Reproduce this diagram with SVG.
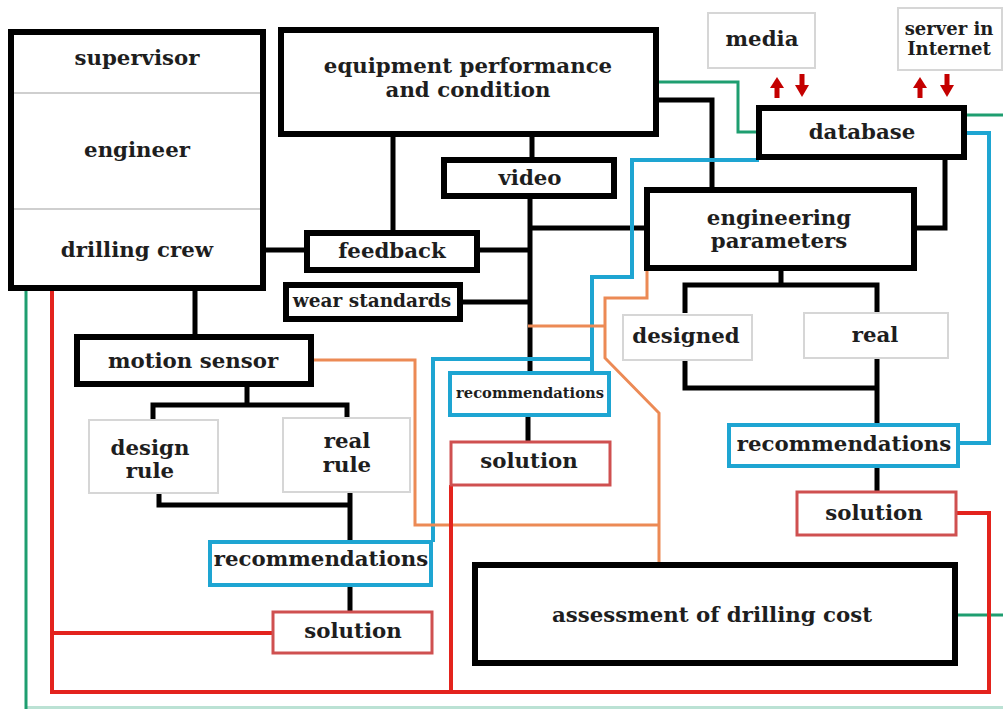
<svg xmlns="http://www.w3.org/2000/svg" width="1003" height="709" viewBox="0 0 1003 709">
<defs>
<style>
.t{font-family:"DejaVu Serif","Liberation Serif",serif;font-weight:bold;font-size:21.3px;fill:#1e1e1e;text-anchor:middle}
.s{font-size:18.5px}
.sv{font-size:18px}
.xs{font-size:14.7px}
.bx{fill:#fff;stroke:#000;stroke-width:6}
.gb{fill:#fff;stroke:#d6d6d6;stroke-width:2}
.rb{fill:#fff;stroke:#1ea5d2;stroke-width:4}
.sb{fill:#fff;stroke:#cf5050;stroke-width:3}
.k{fill:none;stroke:#000;stroke-width:5}
.g{fill:none;stroke:#1e9e70;stroke-width:3}
.b{fill:none;stroke:#1ea5d2;stroke-width:4}
.o{fill:none;stroke:#ec8a55;stroke-width:3}
.r{fill:none;stroke:#e3231d;stroke-width:4}
.ar{fill:#c40000}
</style>
<g id="up"><polygon class="ar" points="-7,11 0,0 7,11"/><rect class="ar" x="-2.5" y="10" width="5" height="11"/></g>
<g id="down"><rect class="ar" x="-2.5" y="0" width="5" height="12"/><polygon class="ar" points="-7,11 0,23 7,11"/></g>
</defs>
<rect width="1003" height="709" fill="#fff"/>

<g id="connectors">
<path class="k" d="M393 134V233M532 134V160M530 196V373M530 228H647M477 250H530M263 250H307M460 302H530M656 100H712V190M945 157V228H914M781 268V285M685 313V285H877V313M685 360V388H877M877 358V425M877 466V492M528 415V442M195 288V337M247 384V405M153 420V405H347V418M159 493V505H350M350 492V542M350 585V612"/>
<path class="g" d="M656 82H738V132H759M964 115H1003M955 615H1003M26 290V709"/>
<path class="g" d="M26 707.5H1003" opacity="0.3"/>
<path class="b" d="M759 160H632V277H592V373M592 359H433V542M958 443H989V133H964"/>
<path class="o" d="M311 360H415V525H659M647 268V298H605V358L659 413V565M528 326H605"/>
<path class="r" d="M52 290V692H989V513H956M52 633H273M451 485V692"/>
<use href="#up" x="777" y="77"/>
<use href="#down" x="802" y="74"/>
<use href="#up" x="920" y="77"/>
<use href="#down" x="947" y="74"/>
</g>

<g id="crew">
<rect class="bx" x="11" y="32" width="252" height="256"/>
<path d="M14 93H260M14 209H260" stroke="#cfcfcf" stroke-width="2"/>
<text class="t" x="137" y="65">supervisor</text>
<text class="t" x="137" y="157">engineer</text>
<text class="t" x="137" y="257">drilling crew</text>
</g>
<g id="equipment">
<rect class="bx" x="281" y="30" width="375" height="104"/>
<text class="t" x="468" y="73">equipment performance</text>
<text class="t" x="468" y="97">and condition</text>
</g>
<g id="video">
<rect class="bx" x="444" y="160" width="170" height="36"/>
<text class="t" x="530" y="185">video</text>
</g>
<g id="feedback">
<rect class="bx" x="307" y="233" width="170" height="37"/>
<text class="t" x="392" y="258">feedback</text>
</g>
<g id="wear-standards">
<rect class="bx" x="286" y="285" width="174" height="34"/>
<text class="t s" x="372" y="307">wear standards</text>
</g>
<g id="engineering-parameters">
<rect class="bx" x="647" y="190" width="267" height="78"/>
<text class="t" x="779" y="225">engineering</text>
<text class="t" x="779" y="248">parameters</text>
</g>
<g id="database">
<rect class="bx" x="759" y="108" width="205" height="49"/>
<text class="t" x="862" y="139">database</text>
</g>
<g id="media">
<rect class="gb" x="708" y="13" width="107" height="55"/>
<text class="t" x="762" y="46">media</text>
</g>
<g id="server">
<rect class="gb" x="898" y="8" width="104" height="62"/>
<text class="t sv" x="949" y="35">server in</text>
<text class="t sv" x="949" y="55">Internet</text>
</g>
<g id="motion-sensor">
<rect class="bx" x="77" y="337" width="234" height="47"/>
<text class="t" x="193" y="368">motion sensor</text>
</g>
<g id="design-rule">
<rect class="gb" x="89" y="420" width="129" height="73"/>
<text class="t" x="150" y="455">design</text>
<text class="t" x="150" y="478">rule</text>
</g>
<g id="real-rule">
<rect class="gb" x="283" y="418" width="127" height="74"/>
<text class="t" x="347" y="448">real</text>
<text class="t" x="347" y="472">rule</text>
</g>
<g id="designed">
<rect class="gb" x="623" y="315" width="129" height="45"/>
<text class="t" x="686" y="343">designed</text>
</g>
<g id="real">
<rect class="gb" x="804" y="313" width="144" height="45"/>
<text class="t" x="875" y="342">real</text>
</g>
<g id="recommendations-middle">
<rect class="rb" x="450" y="373" width="159" height="42"/>
<text class="t xs" x="530" y="398">recommendations</text>
</g>
<g id="solution-middle">
<rect class="sb" x="451" y="442" width="159" height="43"/>
<text class="t" x="529" y="468">solution</text>
</g>
<g id="recommendations-right">
<rect class="rb" x="729" y="425" width="229" height="41"/>
<text class="t" x="844" y="451">recommendations</text>
</g>
<g id="solution-right">
<rect class="sb" x="797" y="492" width="159" height="43"/>
<text class="t" x="874" y="520">solution</text>
</g>
<g id="recommendations-left">
<rect class="rb" x="210" y="542" width="221" height="43"/>
<text class="t" x="321" y="566">recommendations</text>
</g>
<g id="solution-left">
<rect class="sb" x="273" y="612" width="159" height="41"/>
<text class="t" x="353" y="638">solution</text>
</g>
<g id="assessment">
<rect class="bx" x="475" y="565" width="480" height="98"/>
<text class="t" x="712" y="622">assessment of drilling cost</text>
</g>
</svg>
